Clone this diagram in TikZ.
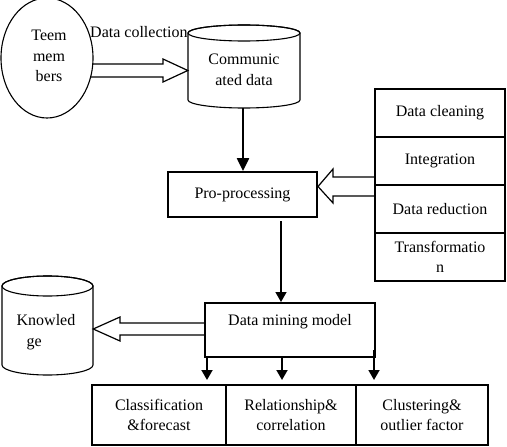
\documentclass[tikz,border=0pt]{standalone}
\usepackage{fontspec}
\setmainfont{Liberation Serif}
\usetikzlibrary{shapes.geometric,arrows.meta,calc}
\begin{document}
\begin{tikzpicture}[x=1pt,y=1pt,
 txt/.style={font=\fontsize{16}{20.5}\selectfont, align=center, inner sep=0pt},
 box/.style={draw, line width=2pt, inner sep=0pt},
 cell/.style={draw, line width=1.5pt, minimum width=130pt, minimum height=48pt, inner sep=0pt},
 thin/.style={line width=1.1pt},
 hollow/.style={line width=1.2pt, line join=miter},
 bigtip/.style={-{Triangle[width=12pt,length=13pt]}},
 smalltip/.style={-{Triangle[width=11pt,length=10pt]}}
]
\useasboundingbox (0,0) rectangle (507,-447);

% team members ellipse
\node[draw, thin, ellipse, minimum width=92pt, minimum height=120pt, inner sep=0pt] (team) at (47,-58) {};
\node[txt] (teamt) at (49,-56) {Teem\\mem\\bers};

% data collection label (partly hidden by cylinder)
\node[txt, anchor=west] (dc) at (90,-32) {Data collection};

% communicated data cylinder
\draw[thin, fill=white] (188,-33) -- (188,-100) arc[start angle=180,end angle=360,x radius=56pt,y radius=8pt] -- (300,-33) arc[start angle=0,end angle=180,x radius=56pt,y radius=8pt] -- cycle;
\draw[thin] (244,-33) ellipse [x radius=56pt, y radius=8pt];
\node[minimum width=112pt, minimum height=83pt, inner sep=0pt] (cd) at (244,-66.5) {};
\node[txt] (cdt) at (244,-70) {Communic\\ated data};

% hollow arrow team -> cd
\draw[hollow] (92.5,-64) -- (163,-64) -- (163,-59) -- (cd.west |- 0,-70.5) -- (163,-82) -- (163,-77) -- (90.8,-77);

% pro-processing
\node[box, txt, minimum width=149pt, minimum height=45pt] (pro) at (242.5,-194.5) {Pro-processing};
\draw[line width=2.5pt, bigtip] (243,-108) -- (243,-171);

% stack
\node[cell, txt] (c1) at (440,-113) {Data cleaning};
\node[cell, txt] (c2) at (440,-161) {Integration};
\node[cell, txt] (c3) at (440,-209) {Data reduction};
\node[cell, txt] (c4) at (440,-257) {Transformatio\\n};

% hollow arrow stack -> pro
\draw[hollow] (c2.south west |- 0,-177) -- (333,-177) -- (333,-169) -- (318,-186.5) -- (333,-203) -- (333,-196) -- (c3.west |- 0,-196);

% data mining model
\node[box, minimum width=170pt, minimum height=54pt] (dm) at (290,-330) {};
\node[txt] (dmt) at (290,-322) {Data mining model};
\draw[line width=1.5pt, smalltip] (281,-221) -- (281,-302);

% knowledge cylinder
\draw[thin, fill=white] (2,-286) -- (2,-365) arc[start angle=180,end angle=360,x radius=45.5pt,y radius=10pt] -- (93,-286) arc[start angle=0,end angle=180,x radius=45.5pt,y radius=10pt] -- cycle;
\draw[thin] (47.5,-286) ellipse [x radius=45.5pt, y radius=10pt];
\node[minimum width=91pt, minimum height=100pt, inner sep=0pt] (kn) at (47.5,-325.5) {};
\node[txt, align=left] (knt) at (46,-332) {Knowled\\\hspace*{10pt}ge};

% hollow arrow dm -> knowledge
\draw[hollow] (dm.west |- 0,-323) -- (120,-323) -- (120,-317) -- (kn.east |- 0,-329) -- (120,-341) -- (120,-335) -- (dm.west |- 0,-335);

% bottom boxes
\node[box, txt, minimum width=134pt, minimum height=60pt] (b1) at (159,-415) {Classification\\\&forecast};
\node[box, txt, minimum width=130pt, minimum height=60pt] (b2) at (291,-415) {Relationship\&\\correlation};
\node[box, txt, minimum width=132pt, minimum height=60pt] (b3) at (422,-415) {Clustering\&\\outlier factor};

\draw[line width=1.8pt, smalltip] (dm.south -| 207,0) -- (207,-380);
\draw[line width=1.8pt, smalltip] (dm.south -| 282,0) -- (282,-380);
\draw[line width=1.8pt, smalltip] (374,-350) -- (374,-380);
\end{tikzpicture}
\end{document}
